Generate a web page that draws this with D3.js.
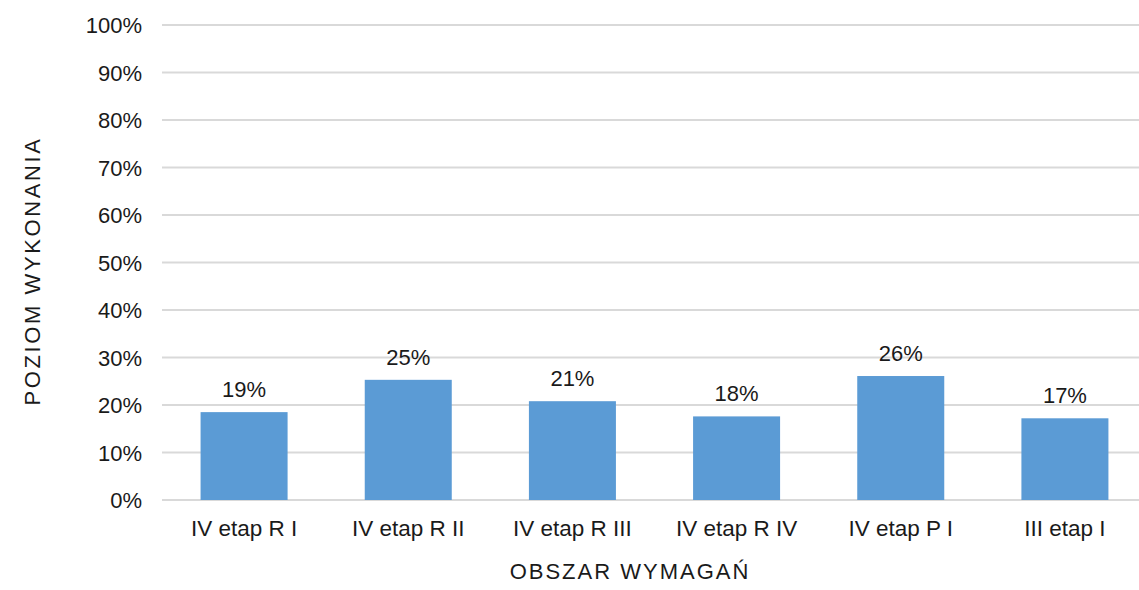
<!DOCTYPE html>
<meta charset="utf-8">
<head>
    <script type="text/javascript" src="https://cdn.jsdelivr.net/npm/d3@7/dist/d3.min.js"></script>
    <style>
        body { margin: 0; background: #fff; }
        text { font-family: "Liberation Sans", Arial, sans-serif; fill: #1a1a1a; }
        .grid line { stroke: #d9d9d9; stroke-width: 2; }
        .bar { fill: #5b9bd5; }
    </style>
    <title>Poziom wykonania</title>
</head>
<body>
    <div id="chart"></div>
    <script>
        // data
        var categories = ["IV etap R I", "IV etap R II", "IV etap R III", "IV etap R IV", "IV etap P I", "III etap I"];
        var values = [0.185, 0.253, 0.208, 0.176, 0.261, 0.172];
        var labels = ["19%", "25%", "21%", "18%", "26%", "17%"];
        var yTicks = [0, 0.1, 0.2, 0.3, 0.4, 0.5, 0.6, 0.7, 0.8, 0.9, 1];

        var w = 1139, h = 590;
        // plot area runs a little past the right edge, like the cropped original
        var mLeft = 162, mRight = 1147, mTop = 25, mBottom = 500;

        var svg = d3.select("#chart").append("svg")
            .attr("width", w)
            .attr("height", h);

        var x = d3.scaleBand()
            .domain(categories)
            .range([mLeft, mRight])
            .paddingInner(0.47)
            .paddingOuter(0.235);

        var y = d3.scaleLinear().domain([0, 1]).range([mBottom, mTop]);

        // gridlines
        svg.append("g").attr("class", "grid")
            .selectAll("line")
            .data(yTicks)
            .enter().append("line")
            .attr("x1", mLeft).attr("x2", mRight)
            .attr("y1", d => y(d)).attr("y2", d => y(d));

        // y tick labels
        svg.append("g")
            .selectAll("text")
            .data(yTicks)
            .enter().append("text")
            .attr("x", 142)
            .attr("y", d => y(d) + 8)
            .attr("text-anchor", "end")
            .style("font-size", "22px")
            .text(d3.format(".0%"));

        // bars
        svg.append("g")
            .selectAll("rect")
            .data(values)
            .enter().append("rect")
            .attr("class", "bar")
            .attr("x", (d, i) => x(categories[i]))
            .attr("width", x.bandwidth())
            .attr("y", d => y(d))
            .attr("height", d => y(0) - y(d));

        // value labels
        svg.append("g")
            .selectAll("text")
            .data(values)
            .enter().append("text")
            .attr("x", (d, i) => x(categories[i]) + x.bandwidth() / 2)
            .attr("y", d => y(d) - 15)
            .attr("text-anchor", "middle")
            .style("font-size", "22px")
            .text((d, i) => labels[i]);

        // category labels
        svg.append("g")
            .selectAll("text")
            .data(categories)
            .enter().append("text")
            .attr("x", d => x(d) + x.bandwidth() / 2)
            .attr("y", 536)
            .attr("text-anchor", "middle")
            .style("font-size", "22.5px")
            .text(d => d);

        // axis titles
        svg.append("text")
            .attr("x", 630)
            .attr("y", 579)
            .attr("text-anchor", "middle")
            .style("font-size", "22px")
            .style("letter-spacing", "2px")
            .text("OBSZAR WYMAGAŃ");

        svg.append("text")
            .attr("transform", "translate(40,271) rotate(-90)")
            .attr("text-anchor", "middle")
            .style("font-size", "22px")
            .style("letter-spacing", "2.6px")
            .text("POZIOM WYKONANIA");
    </script>
</body>
</html>
